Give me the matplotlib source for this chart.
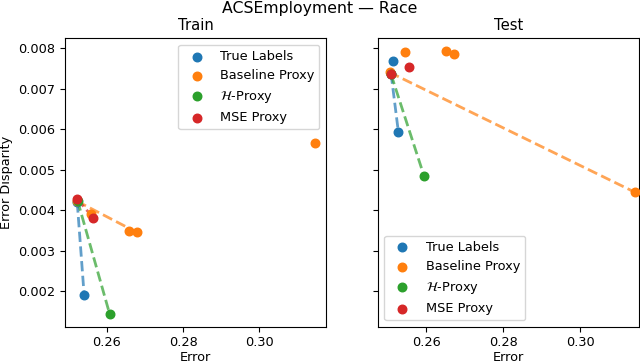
import numpy as np
import matplotlib
matplotlib.use('Agg')
import matplotlib.pyplot as plt

# values (error, error disparity); first point = starting model
methods = ['True Labels', 'Baseline Proxy', r'$\mathcal{H}$-Proxy', 'MSE Proxy']
colors = ['tab:blue', 'tab:orange', 'tab:green', 'tab:red']

train_err = [
    [0.2523, 0.2541],
    [0.2522, 0.2559, 0.2658, 0.2679, 0.3145],
    [0.2524, 0.2608],
    [0.2522, 0.2565],
]
train_disp = [
    [0.00420, 0.00192],
    [0.00423, 0.00392, 0.00349, 0.00346, 0.00566],
    [0.00424, 0.00144],
    [0.00429, 0.00382],
]

test_err = [
    [0.2509, 0.2513, 0.2528],
    [0.2505, 0.2545, 0.2651, 0.2673, 0.3142],
    [0.2509, 0.2595],
    [0.2509, 0.2556],
]
test_disp = [
    [0.00738, 0.00768, 0.00594],
    [0.00741, 0.00792, 0.00793, 0.00786, 0.00445],
    [0.00736, 0.00484],
    [0.00738, 0.00754],
]

plt.rcParams['font.size'] = 9.3


def draw_panel(ax, errs, disps, title, legend_loc):
    for name, c, xs, ys in zip(methods, colors, errs, disps):
        xs = np.asarray(xs)
        ys = np.asarray(ys)
        # dashed link: start model -> lowest-disparity model
        k = int(np.argmin(ys))
        if k != 0:
            ax.plot([xs[0], xs[k]], [ys[0], ys[k]], color=c, linestyle='--',
                    linewidth=2, alpha=0.7)
        ax.scatter(xs, ys, color=c, s=38, label=name, zorder=3)
    ax.set_title(title, fontsize=10.6)
    ax.set_xlabel('Error', labelpad=1)
    ax.set_xticks([0.26, 0.28, 0.30])
    ax.legend(loc=legend_loc)


fig, (ax1, ax2) = plt.subplots(1, 2, figsize=(6.4, 3.63), dpi=100, sharey=True)
fig.subplots_adjust(left=0.1016, right=0.998, top=0.8945, bottom=0.1, wspace=0.2)

draw_panel(ax1, train_err, train_disp, 'Train', 'upper right')
draw_panel(ax2, test_err, test_disp, 'Test', 'lower left')

ax1.set_ylabel('Error Disparity')
ax1.set_xlim(0.2491, 0.3174)
ax2.set_xlim(0.2475, 0.3152)
ax1.set_ylim(0.00113, 0.00825)
ax1.set_yticks([0.002, 0.003, 0.004, 0.005, 0.006, 0.007, 0.008])

fig.suptitle('ACSEmployment — Race', fontsize=11.3, y=0.997, va='top')

fig.savefig('out.png', dpi=100)
